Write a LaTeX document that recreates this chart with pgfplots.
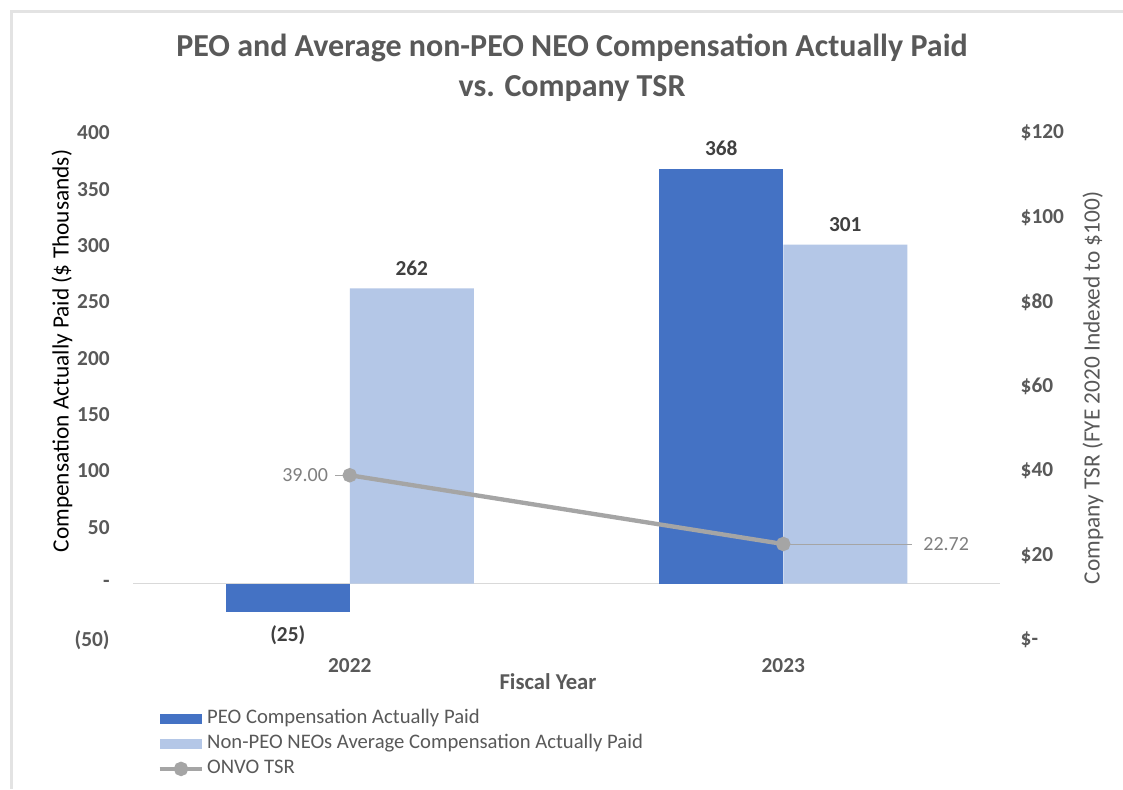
\documentclass[border=0pt]{standalone}
\usepackage{fontspec}
\setmainfont{Carlito}
\usepackage{pgfplots}
\usepackage{pgfplotstable}
\pgfplotsset{compat=1.18}
\definecolor{peo}{HTML}{4472C4}
\definecolor{nonpeo}{HTML}{B4C7E7}
\definecolor{tsr}{HTML}{A5A5A5}
\definecolor{txt}{HTML}{595959}
\definecolor{dark}{HTML}{404040}
\definecolor{lbl}{HTML}{7F7F7F}
\definecolor{framegray}{HTML}{E3E3E3}
\definecolor{zerogray}{HTML}{D9D9D9}
\pgfplotsset{
  barlegend/.style={legend image code/.code={\fill[##1, draw=none] (0pt,-4pt) rectangle (32pt,4pt);}},
  linelegend/.style={legend image code/.code={\draw[mark repeat=2,mark phase=2,##1] plot coordinates {(0pt,0pt) (16pt,0pt) (32pt,0pt)};}},
}
\pgfplotstableread{
x peo peolab nonpeo nonpeolab
0 -25 (25) 262 262
1 368 368 301 301
}\bardata
\pgfplotstableread{
x tsr
0 39.00
1 22.72
}\tsrdata
\begin{document}
\begin{tikzpicture}
\begin{scope}[x=0.75pt,y=-0.75pt]
\useasboundingbox (0,0) rectangle (1123,789);
\fill[white] (0,0) rectangle (1123,789);
\draw[line width=2.25pt, color=framegray] (11,789) -- (11,11) -- (1123,11);
\node[font=\bfseries\fontsize{24}{30}\selectfont, text=txt, align=center] at (572,68) {PEO and Average non-PEO NEO Compensation Actually Paid\\vs. Company TSR};
\node[rotate=90, font=\fontsize{17.5}{20}\selectfont, text=black] at (62,351) {Compensation Actually Paid (\$ Thousands)};
\node[rotate=90, font=\fontsize{17.5}{20}\selectfont, text=txt] at (1093,388) {Company TSR (FYE 2020 Indexed to \$100)};
\node[font=\bfseries\fontsize{17}{20}\selectfont, text=txt] at (548,682) {Fiscal Year};
\end{scope}
\begin{axis}[
  at={(99.75pt,-480pt)}, anchor=south west, scale only axis,
  width=650.25pt, height=380.25pt,
  xmin=-0.5, xmax=1.5, ymin=-50, ymax=400,
  axis x line*=bottom, axis y line*=left, axis line style={draw=none},
  major tick length=0pt,
  xtick={0,1}, xticklabels={2022,2023},
  ytick={-50,0,50,100,150,200,250,300,350,400},
  yticklabels={(50),-,50,100,150,200,250,300,350,400},
  tick label style={font=\bfseries\fontsize{16}{18}\selectfont, text=txt},
  yticklabel style={xshift=-14pt},
  xticklabel style={yshift=-10pt},
  point meta=explicit symbolic,
  nodes near coords,
  nodes near coords style={font=\bfseries\fontsize{16}{18}\selectfont, text=dark, inner sep=9.5pt},
  clip=false,
]
\draw[color=zerogray, line width=1pt] (axis cs:-0.5,0) -- (axis cs:1.5,0);
\addplot[ybar, bar width=93pt, bar shift=-46.5pt, fill=peo, draw=none,
  skip coords between index={1}{2},
  every node near coord/.append style={anchor=north, xshift=-46.5pt, yshift=-1pt}]
  table[x=x, y=peo, meta=peolab] {\bardata};
\addplot[ybar, bar width=93pt, bar shift=-46.5pt, fill=peo, draw=none,
  skip coords between index={0}{1},
  every node near coord/.append style={anchor=south, xshift=-46.5pt}]
  table[x=x, y=peo, meta=peolab] {\bardata};
\addplot[ybar, bar width=93pt, bar shift=46.5pt, fill=nonpeo, draw=none,
  every node near coord/.append style={anchor=south, xshift=46.5pt}]
  table[x=x, y=nonpeo, meta=nonpeolab] {\bardata};
\end{axis}
\begin{axis}[
  at={(99.75pt,-480pt)}, anchor=south west, scale only axis,
  width=650.25pt, height=380.25pt,
  xmin=-0.5, xmax=1.5, ymin=0, ymax=120,
  hide x axis, axis y line*=right, axis line style={draw=none},
  major tick length=0pt,
  ytick={0,20,40,60,80,100,120},
  yticklabels={\$-,\$20,\$40,\$60,\$80,\$100,\$120},
  yticklabel style={font=\bfseries\fontsize{16}{18}\selectfont, text=txt, xshift=12pt},
  legend style={at={(0.028,-0.138)}, anchor=north west, draw=none, fill=none,
    font=\fontsize{15.5}{18}\selectfont, text=txt, row sep=5.75pt, inner sep=0pt,
    nodes={inner ysep=0pt, text height=10pt, text depth=3pt}},
  legend cell align=left,
  clip=false,
]
\addlegendimage{barlegend, fill=peo}
\addlegendentry{PEO Compensation Actually Paid}
\addlegendimage{barlegend, fill=nonpeo}
\addlegendentry{Non-PEO NEOs Average Compensation Actually Paid}
\draw[tsr, line width=0.75pt] (axis cs:0,39) -- ++(-11pt,0pt) node[anchor=east, inner sep=0pt, xshift=-5pt, text=lbl, font=\fontsize{15}{17}\selectfont] {39.00};
\draw[tsr, line width=0.75pt] (axis cs:1,22.72) -- ++(96.75pt,0pt) node[anchor=west, inner sep=0pt, xshift=8pt, text=lbl, font=\fontsize{15}{17}\selectfont] {22.72};
\addplot[tsr, line width=3.25pt, mark=*, mark size=3.75pt, mark options={fill=tsr, draw=tsr}, linelegend] table[x=x, y=tsr] {\tsrdata};
\addlegendentry{ONVO TSR}
\end{axis}
\end{tikzpicture}
\end{document}
